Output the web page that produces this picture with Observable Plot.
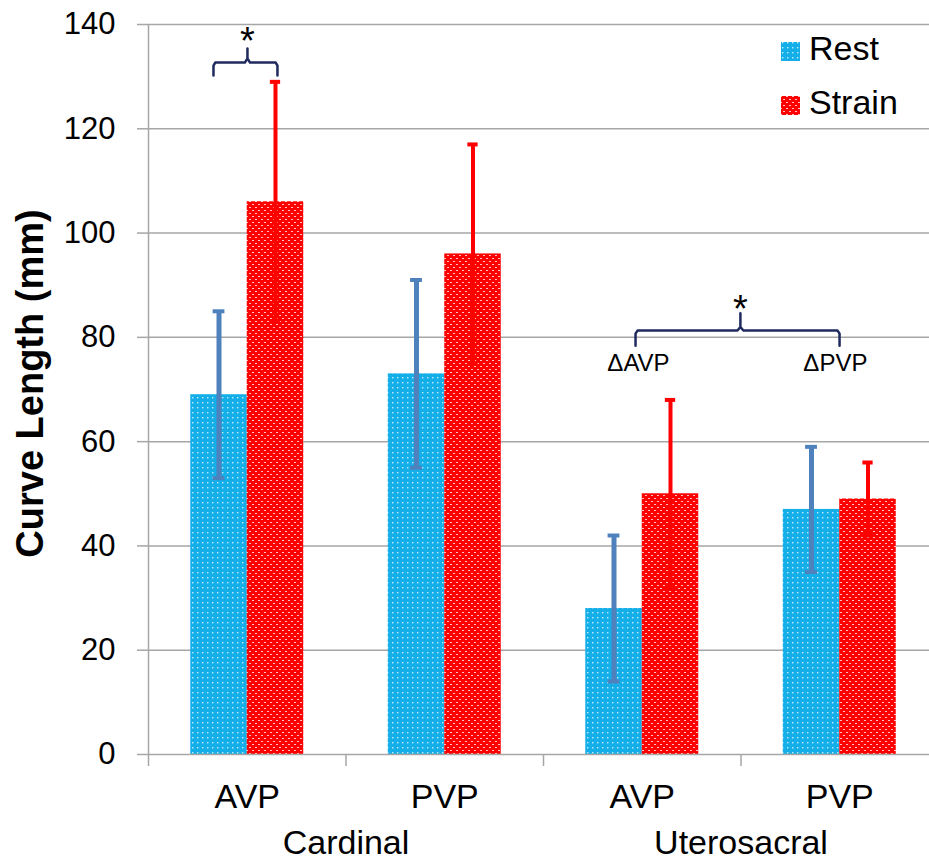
<!DOCTYPE html>
<html><head><meta charset="utf-8">
<script src="https://cdn.jsdelivr.net/npm/d3@7"></script>
<script src="https://cdn.jsdelivr.net/npm/@observablehq/plot@0.6"></script>
<style>
body{margin:0;background:#fff;font-family:"Liberation Sans",Arial,sans-serif;}
#wrap{position:relative;width:929px;height:861px;overflow:hidden;}
</style></head><body><div id="wrap"></div>
<script>
// ---- data ----
const categories = ["AVP", "PVP", "AVP", "PVP"];
const ligaments = ["Cardinal", "Uterosacral"];
const series = ["Rest", "Strain"];
const restMean = [69, 73, 28, 47];
const restSD = [16, 18, 14, 12];
const strainMean = [106, 96, 50, 49];
const strainSD = [23, 21, 18, 7];
const yTicks = [0, 20, 40, 60, 80, 100, 120, 140];
// annotations (data units: x = category index, y = mm)
const bracketCardinal = [[0.329,130.2],[0.329,132.1],[0.338,132.7],[0.488,132.7],[0.501,133.5],[0.501,135.4],[0.501,133.5],[0.514,132.7],[0.644,132.7],[0.653,132.1],[0.653,130.2]];
const bracketUtero = [[2.466,78.4],[2.466,80.7],[2.476,81.3],[2.982,81.3],[2.997,82.0],[2.997,84.6],[2.997,82.0],[3.012,81.3],[3.489,81.3],[3.499,80.7],[3.499,78.4]];
const stars = [{x: 0.501, y: 134.3, t: "*"}, {x: 2.997, y: 82.9, t: "*"}];
const deltaLabels = [{x: 2.481, y: 73.6, t: "ΔAVP"}, {x: 3.478, y: 73.6, t: "ΔPVP"}];

// ---- build table ----
const barFrac = 0.286;
const rows = [];
categories.forEach((c, i) => {
  series.forEach((s, j) => {
    const m = j ? strainMean[i] : restMean[i];
    const sd = j ? strainSD[i] : restSD[i];
    const x1 = j ? i + 0.5 : i + 0.5 - barFrac;
    const x2 = j ? i + 0.5 + barFrac : i + 0.5;
    rows.push({cat: c, i, series: s, mean: m, lo: m - sd, hi: m + sd, x1, x2, xc: (x1 + x2) / 2});
  });
});
const rest = rows.filter(d => d.series === "Rest");
const strain = rows.filter(d => d.series === "Strain");
const catRows = categories.map((c, i) => ({c, xc: i + 0.5}));
const ligRows = ligaments.map((l, k) => ({l, xc: 2 * k + 1}));

const gray = "#a6a6a6";
const navy = "#1f2a5e";
const blueErr = "#4f81bd";
const redErr = "#ff0000";

const plot = Plot.plot({
  width: 929, height: 861,
  marginTop: 24, marginBottom: 107, marginLeft: 148, marginRight: 0,
  x: {domain: [0, 4], range: [148, 938], axis: null},
  y: {domain: [0, 140], axis: null},
  style: {fontFamily: "'Liberation Sans', Arial, sans-serif", background: "white", overflow: "visible", color: "black"},
  marks: [
    Plot.ruleY(yTicks.filter(d => d > 0), {stroke: gray, strokeWidth: 1.5}),
    Plot.rectY(rest, {x1: "x1", x2: "x2", y1: 0, y2: "mean", fill: "url(#pRest)"}),
    Plot.rectY(strain, {x1: "x1", x2: "x2", y1: 0, y2: "mean", fill: "url(#pStrain)"}),
    Plot.ruleX([0], {stroke: gray, strokeWidth: 1.5}),
    Plot.ruleY([0], {stroke: gray, strokeWidth: 1.5}),
    Plot.axisY({ticks: yTicks, tickSize: 11, tickPadding: 22, fontSize: 31, stroke: gray, strokeWidth: 1.5, tickFormat: d => d}),
    Plot.axisX({ticks: [0, 1, 2, 3], tickSize: 12, tickFormat: () => "", stroke: gray, strokeWidth: 1.5}),
    // error bars
    Plot.ruleX(rest, {x: "xc", y1: "lo", y2: "hi", stroke: blueErr, strokeWidth: 5}),
    Plot.ruleY(rest, {y: "hi", x1: d => d.xc - 0.03, x2: d => d.xc + 0.03, stroke: blueErr, strokeWidth: 4}),
    Plot.ruleY(rest, {y: "lo", x1: d => d.xc - 0.03, x2: d => d.xc + 0.03, stroke: blueErr, strokeWidth: 4}),
    Plot.ruleX(strain, {x: "xc", y1: "lo", y2: "hi", stroke: redErr, strokeWidth: 4}),
    Plot.ruleY(strain, {y: "hi", x1: d => d.xc - 0.026, x2: d => d.xc + 0.026, stroke: redErr, strokeWidth: 4}),
    Plot.ruleY(strain, {y: "lo", x1: d => d.xc - 0.026, x2: d => d.xc + 0.026, stroke: redErr, strokeWidth: 4}),
    // category labels
    Plot.text(catRows, {x: "xc", text: "c", frameAnchor: "bottom", lineAnchor: "bottom", dy: 53, fontSize: 34}),
    Plot.text(ligRows, {x: "xc", text: "l", frameAnchor: "bottom", lineAnchor: "bottom", dy: 99, fontSize: 34}),
    // y label
    Plot.text(["Curve Length (mm)"], {text: d => d, frameAnchor: "left", textAnchor: "middle", rotate: -90, dx: -106, dy: -6, lineAnchor: "bottom", fontSize: 38, fontWeight: "bold"}),
    // brackets & stars
    Plot.line(bracketCardinal, {x: d => d[0], y: d => d[1], stroke: navy, strokeWidth: 2.5}),
    Plot.line(bracketUtero, {x: d => d[0], y: d => d[1], stroke: navy, strokeWidth: 2.5}),
    Plot.text(stars, {x: "x", y: "y", text: "t", lineAnchor: "bottom", fontSize: 38}),
    Plot.text(deltaLabels, {x: "x", y: "y", text: "t", lineAnchor: "bottom", fontSize: 24})
  ]
});

document.getElementById("wrap").appendChild(plot);

// patterns + legend
const svg = d3.select(plot);
const defs = svg.insert("defs", ":first-child");
const pr = defs.append("pattern").attr("id", "pRest").attr("patternUnits", "userSpaceOnUse").attr("width", 5).attr("height", 5);
pr.append("rect").attr("width", 5).attr("height", 5).attr("fill", "#14aee8");
pr.append("rect").attr("x", 2).attr("y", 2).attr("width", 1.4).attr("height", 1.4).attr("fill", "#ffffff").attr("fill-opacity", 0.75);
const ps = defs.append("pattern").attr("id", "pStrain").attr("patternUnits", "userSpaceOnUse").attr("width", 6).attr("height", 6);
ps.append("rect").attr("width", 6).attr("height", 6).attr("fill", "#ff0000");
ps.append("rect").attr("x", 0).attr("y", 0).attr("width", 2).attr("height", 1).attr("fill", "#ffffff").attr("fill-opacity", 0.75);
ps.append("rect").attr("x", 3).attr("y", 3).attr("width", 2).attr("height", 1).attr("fill", "#ffffff").attr("fill-opacity", 0.75);

const legend = svg.append("g").attr("text-anchor", "start");
series.forEach((s, k) => {
  const top = 42 + k * 54;
  legend.append("rect").attr("x", 781).attr("y", top).attr("width", 19).attr("height", 19)
    .attr("fill", k ? "url(#pStrain)" : "url(#pRest)");
  legend.append("text").attr("x", 809).attr("y", top + 18).attr("font-size", 34)
    .attr("text-anchor", "start").attr("fill", "black").text(s);
});
</script></body></html>
